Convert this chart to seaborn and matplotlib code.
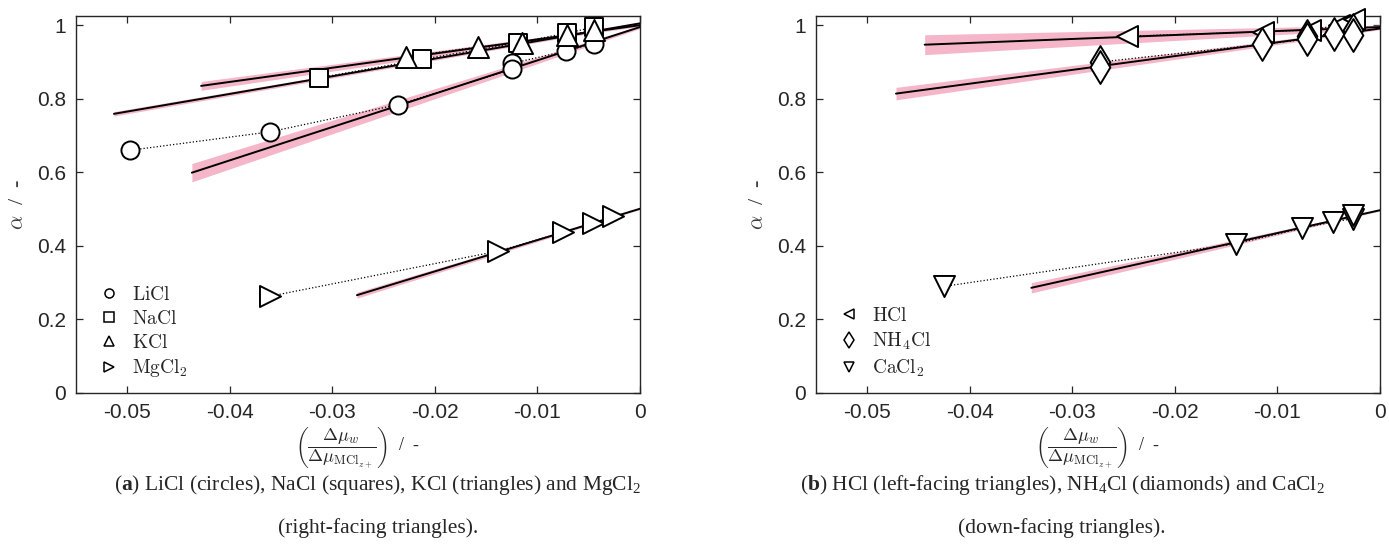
import matplotlib
matplotlib.use('Agg')
import matplotlib.pyplot as plt
import seaborn as sns
from matplotlib.lines import Line2D

# panel (a)
licl_x = [-0.0497, -0.0361, -0.0236, -0.0125, -0.0125, -0.0072, -0.0045]
licl_y = [0.660, 0.710, 0.784, 0.896, 0.880, 0.930, 0.950]
nacl_x = [-0.0313, -0.0213, -0.0119, -0.0071, -0.0045]
nacl_y = [0.857, 0.907, 0.952, 0.979, 0.994]
kcl_x = [-0.0228, -0.0158, -0.0115, -0.0071, -0.0045]
kcl_y = [0.914, 0.941, 0.952, 0.973, 0.986]
mgcl2_x = [-0.0361, -0.0138, -0.0075, -0.0046, -0.0026]
mgcl2_y = [0.263, 0.386, 0.437, 0.463, 0.480]

# panel (b)
hcl_x = [-0.0247, -0.0114, -0.0068, -0.0040, -0.0025]
hcl_y = [0.970, 0.982, 0.987, 1.000, 1.018]
nh4cl_x = [-0.0273, -0.0273, -0.0115, -0.0071, -0.0071, -0.0045, -0.0026, -0.0026]
nh4cl_y = [0.900, 0.887, 0.948, 0.970, 0.962, 0.977, 0.986, 0.973]
cacl2_x = [-0.0425, -0.0140, -0.0076, -0.0046, -0.0026, -0.0026]
cacl2_y = [0.290, 0.406, 0.448, 0.465, 0.474, 0.483]

# linear fits: end points and half width of the pink band at each end
licl_fit_x, licl_fit_y, licl_band = [-0.0437, 0.0], [0.599, 0.995], [0.025, 0.004]
nacl_fit_x, nacl_fit_y, nacl_band = [-0.0513, 0.0], [0.759, 1.005], [0.006, 0.003]
kcl_fit_x, kcl_fit_y, kcl_band = [-0.0428, 0.0], [0.835, 1.000], [0.012, 0.003]
mgcl2_fit_x, mgcl2_fit_y, mgcl2_band = [-0.0276, 0.0], [0.266, 0.501], [0.008, 0.002]
hcl_fit_x, hcl_fit_y, hcl_band = [-0.0444, 0.0], [0.947, 0.995], [0.027, 0.005]
nh4cl_fit_x, nh4cl_fit_y, nh4cl_band = [-0.0472, 0.0], [0.814, 0.991], [0.017, 0.003]
cacl2_fit_x, cacl2_fit_y, cacl2_band = [-0.0340, 0.0], [0.286, 0.497], [0.014, 0.002]

x_ticks = [-0.05, -0.04, -0.03, -0.02, -0.01, 0.0]
x_tick_labels = ['-0.05', '-0.04', '-0.03', '-0.02', '-0.01', '0']
y_ticks = [0, 0.2, 0.4, 0.6, 0.8, 1.0]
y_tick_labels = ['0', '0.2', '0.4', '0.6', '0.8', '1']

sns.set_style('ticks')
plt.rcParams['font.family'] = ['Liberation Sans', 'DejaVu Sans']
plt.rcParams['mathtext.fontset'] = 'cm'
plt.rcParams['mathtext.rm'] = 'Liberation Serif'
plt.rcParams['mathtext.bf'] = 'Liberation Serif:bold'
plt.rcParams['axes.unicode_minus'] = False

PINK = '#f4b6c8'

fig = plt.figure(figsize=(13.89, 5.49), dpi=100)
W, H = 1389, 549
ax_a = fig.add_axes([76 / W, 156 / H, 564 / W, 377 / H])
ax_b = fig.add_axes([816 / W, 156 / H, 564 / W, 377 / H])


def draw_fit(ax, fx, fy, band):
    lo = [y - b for y, b in zip(fy, band)]
    hi = [y + b for y, b in zip(fy, band)]
    ax.fill_between(fx, lo, hi, color=PINK, lw=0, zorder=1)
    sns.lineplot(x=fx, y=fy, color='black', lw=1.4, ax=ax, zorder=3)


def draw_points(ax, x, y, marker, size):
    sns.lineplot(x=x, y=y, estimator=None, color='black', lw=0.9, ls=':', ax=ax, zorder=2)
    sns.scatterplot(x=x, y=y, marker=marker, s=size, facecolor='white',
                    edgecolor='black', linewidth=1.4, ax=ax, zorder=4, clip_on=False)


panels = {
    ax_a: [
        (licl_x, licl_y, licl_fit_x, licl_fit_y, licl_band, 'o', 170, r'$\mathrm{LiCl}$'),
        (nacl_x, nacl_y, nacl_fit_x, nacl_fit_y, nacl_band, 's', 150, r'$\mathrm{NaCl}$'),
        (kcl_x, kcl_y, kcl_fit_x, kcl_fit_y, kcl_band, '^', 230, r'$\mathrm{KCl}$'),
        (mgcl2_x, mgcl2_y, mgcl2_fit_x, mgcl2_fit_y, mgcl2_band, '>', 230, r'$\mathrm{MgCl_2}$'),
    ],
    ax_b: [
        (hcl_x, hcl_y, hcl_fit_x, hcl_fit_y, hcl_band, '<', 230, r'$\mathrm{HCl}$'),
        (nh4cl_x, nh4cl_y, nh4cl_fit_x, nh4cl_fit_y, nh4cl_band, 'd', 280, r'$\mathrm{NH_4Cl}$'),
        (cacl2_x, cacl2_y, cacl2_fit_x, cacl2_fit_y, cacl2_band, 'v', 230, r'$\mathrm{CaCl_2}$'),
    ],
}

for ax, series in panels.items():
    handles = []
    for x, y, fx, fy, band, marker, size, label in series:
        draw_fit(ax, fx, fy, band)
    for x, y, fx, fy, band, marker, size, label in series:
        draw_points(ax, x, y, marker, size)
        handles.append(Line2D([], [], ls='none', marker=marker, ms=6.5 if marker != 'd' else 8,
                              mfc='white', mec='black', mew=1.1, label=label))

    ax.set_xlim(-0.055, 0)
    ax.set_ylim(0, 1.025)
    ax.set_xticks(x_ticks)
    ax.set_xticklabels(x_tick_labels)
    ax.set_yticks(y_ticks)
    ax.set_yticklabels(y_tick_labels)
    ax.tick_params(direction='in', top=True, right=True, length=5, width=0.9,
                   labelsize=15, pad=7, colors='#262626')
    for sp in ax.spines.values():
        sp.set_visible(True)
        sp.set_color('#262626')
        sp.set_linewidth(1.0)
    ax.set_ylabel(r'$\alpha$  /  -', fontsize=16, color='#404040', family='Liberation Serif')
    ax.yaxis.set_label_coords(-0.085, 0.5)
    ax.set_xlabel(r'$\left(\dfrac{\Delta\mu_w}{\Delta\mu_{\mathrm{MCl}_{z+}}}\right)$  /  -',
                  fontsize=13, labelpad=2, family='Liberation Serif', color='#262626')
    ax.legend(handles=handles, loc='lower left', bbox_to_anchor=(0.02, 0.005), frameon=False,
              fontsize=14, handlelength=1.0, handletextpad=0.7, labelspacing=0.3,
              borderaxespad=0.2)

cap_kw = dict(ha='center', va='center', fontsize=15.5, family='Liberation Serif',
              math_fontfamily='custom')
fig.text(378 / W, 1 - 485 / H,
         r'($\mathbf{a}$) LiCl (circles), NaCl (squares), KCl (triangles) and MgCl$_2$', **cap_kw)
fig.text(378 / W, 1 - 528 / H, '(right-facing triangles).', **cap_kw)
fig.text(1062 / W, 1 - 485 / H,
         r'($\mathbf{b}$) HCl (left-facing triangles), NH$_4$Cl (diamonds) and CaCl$_2$', **cap_kw)
fig.text(1062 / W, 1 - 528 / H, '(down-facing triangles).', **cap_kw)

fig.savefig('out.png', dpi=100)
